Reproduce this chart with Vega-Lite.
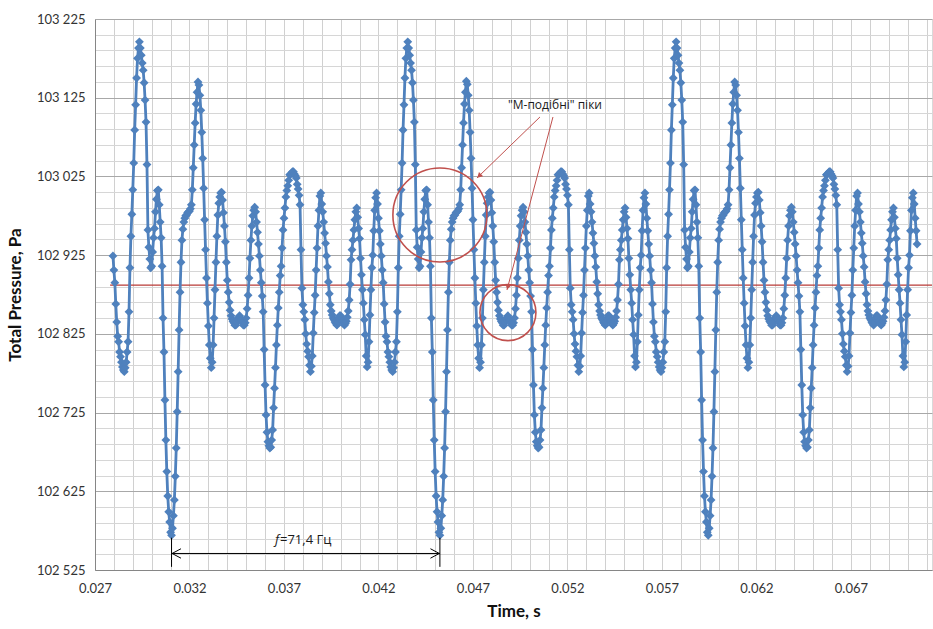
{
"$schema":"https://vega.github.io/schema/vega-lite/v6.json",
"width":837,"height":551,
"autosize":{"type":"none"},
"padding":{"left":95,"top":19,"right":1,"bottom":59},
"background":"white",
"config":{"view":{"stroke":"#d9d9d9"},"font":"Lato"},
"datasets":{
"s":[
{"t":0.02795,"p":102924},{"t":0.028,"p":102906},{"t":0.02805,"p":102890},{"t":0.0281,"p":102863},{"t":0.02815,"p":102840},{"t":0.0282,"p":102822},{"t":0.02825,"p":102815},{"t":0.0283,"p":102802},{"t":0.02835,"p":102796},{"t":0.0284,"p":102789},{"t":0.02845,"p":102783},{"t":0.0285,"p":102779},{"t":0.02855,"p":102777},{"t":0.0286,"p":102782},{"t":0.02865,"p":102789},{"t":0.0287,"p":102802},{"t":0.02875,"p":102815},{"t":0.0288,"p":102853},{"t":0.02885,"p":102909},{"t":0.0289,"p":102949},{"t":0.02895,"p":102977},{"t":0.029,"p":103008},{"t":0.02905,"p":103042},{"t":0.0291,"p":103084},{"t":0.02915,"p":103116},{"t":0.0292,"p":103150},{"t":0.02925,"p":103175},{"t":0.0293,"p":103188},{"t":0.02935,"p":103196},{"t":0.0294,"p":103188},{"t":0.02945,"p":103179},{"t":0.0295,"p":103169},{"t":0.02955,"p":103160},{"t":0.0296,"p":103144},{"t":0.02965,"p":103122},{"t":0.0297,"p":103094},{"t":0.02975,"p":103040},{"t":0.0298,"p":102957},{"t":0.02985,"p":102935},{"t":0.0299,"p":102920},{"t":0.02995,"p":102909},{"t":0.03,"p":102911},{"t":0.03005,"p":102929},{"t":0.0301,"p":102947},{"t":0.03015,"p":102959},{"t":0.0302,"p":102980},{"t":0.03025,"p":102996},{"t":0.0303,"p":103007},{"t":0.03035,"p":103008},{"t":0.0304,"p":102989},{"t":0.03045,"p":102967},{"t":0.0305,"p":102947},{"t":0.03055,"p":102911},{"t":0.0306,"p":102845},{"t":0.03065,"p":102802},{"t":0.0307,"p":102741},{"t":0.03075,"p":102690},{"t":0.0308,"p":102650},{"t":0.03085,"p":102619},{"t":0.0309,"p":102599},{"t":0.03095,"p":102586},{"t":0.031,"p":102573},
{"t":0.03105,"p":102569},{"t":0.0311,"p":102578},{"t":0.03115,"p":102594},{"t":0.0312,"p":102614},{"t":0.03125,"p":102644},{"t":0.0313,"p":102680},{"t":0.03135,"p":102726},{"t":0.0314,"p":102777},{"t":0.03145,"p":102830},{"t":0.0315,"p":102878},{"t":0.03155,"p":102916},{"t":0.0316,"p":102944},{"t":0.03165,"p":102958},{"t":0.0317,"p":102967},{"t":0.03175,"p":102972},{"t":0.0318,"p":102975},{"t":0.03185,"p":102976},{"t":0.0319,"p":102979},{"t":0.03195,"p":102980},{"t":0.032,"p":102981},
{"t":0.03205,"p":102984},{"t":0.0321,"p":102989},{"t":0.03215,"p":103008},{"t":0.0322,"p":103036},{"t":0.03225,"p":103065},{"t":0.0323,"p":103093},{"t":0.03235,"p":103117},{"t":0.0324,"p":103132},{"t":0.03245,"p":103145},{"t":0.0325,"p":103141},{"t":0.03255,"p":103128},{"t":0.0326,"p":103109},{"t":0.03265,"p":103081},{"t":0.0327,"p":103048},{"t":0.03275,"p":103010},{"t":0.0328,"p":102970},{"t":0.03285,"p":102932},{"t":0.0329,"p":102896},{"t":0.03295,"p":102864},{"t":0.033,"p":102835},
{"t":0.03305,"p":102811},{"t":0.0331,"p":102794},{"t":0.03315,"p":102782},{"t":0.0332,"p":102789},{"t":0.03325,"p":102811},{"t":0.0333,"p":102845},{"t":0.03335,"p":102881},{"t":0.0334,"p":102916},{"t":0.03345,"p":102949},{"t":0.0335,"p":102976},{"t":0.03355,"p":102991},{"t":0.0336,"p":102999},{"t":0.03365,"p":103004},{"t":0.0337,"p":103005},{"t":0.03375,"p":102995},{"t":0.0338,"p":102979},{"t":0.03385,"p":102962},{"t":0.0339,"p":102942},{"t":0.03395,"p":102916},{"t":0.034,"p":102893},
{"t":0.03405,"p":102878},{"t":0.0341,"p":102865},{"t":0.03415,"p":102855},{"t":0.0342,"p":102848},{"t":0.03425,"p":102844},{"t":0.0343,"p":102841},{"t":0.03435,"p":102839},{"t":0.0344,"p":102836},{"t":0.03445,"p":102836},{"t":0.0345,"p":102840},{"t":0.03455,"p":102844},{"t":0.0346,"p":102846},{"t":0.03465,"p":102848},{"t":0.0347,"p":102845},{"t":0.03475,"p":102843},{"t":0.0348,"p":102839},{"t":0.03485,"p":102836},{"t":0.0349,"p":102836},{"t":0.03495,"p":102839},{"t":0.035,"p":102845},
{"t":0.03505,"p":102857},{"t":0.0351,"p":102874},{"t":0.03515,"p":102896},{"t":0.0352,"p":102921},{"t":0.03525,"p":102944},{"t":0.0353,"p":102962},{"t":0.03535,"p":102975},{"t":0.0354,"p":102982},{"t":0.03545,"p":102986},{"t":0.0355,"p":102980},{"t":0.03555,"p":102967},{"t":0.0356,"p":102954},{"t":0.03565,"p":102939},{"t":0.0357,"p":102924},{"t":0.03575,"p":102906},{"t":0.0358,"p":102890},{"t":0.03585,"p":102873},{"t":0.0359,"p":102853},{"t":0.03595,"p":102805},{"t":0.036,"p":102760},
{"t":0.03605,"p":102722},{"t":0.0361,"p":102700},{"t":0.03615,"p":102688},{"t":0.0362,"p":102683},{"t":0.03625,"p":102680},{"t":0.0363,"p":102681},{"t":0.03635,"p":102690},{"t":0.0364,"p":102703},{"t":0.03645,"p":102731},{"t":0.0365,"p":102756},{"t":0.03655,"p":102782},{"t":0.0366,"p":102811},{"t":0.03665,"p":102836},{"t":0.0367,"p":102858},{"t":0.03675,"p":102878},{"t":0.0368,"p":102899},{"t":0.03685,"p":102911},{"t":0.0369,"p":102934},{"t":0.03695,"p":102957},{"t":0.037,"p":102972},
{"t":0.03705,"p":102985},{"t":0.0371,"p":102999},{"t":0.03715,"p":103007},{"t":0.0372,"p":103013},{"t":0.03725,"p":103020},{"t":0.0373,"p":103027},{"t":0.03735,"p":103028},{"t":0.0374,"p":103029},{"t":0.03745,"p":103031},{"t":0.0375,"p":103031},{"t":0.03755,"p":103028},{"t":0.0376,"p":103026},{"t":0.03765,"p":103023},{"t":0.0377,"p":103015},{"t":0.03775,"p":103009},{"t":0.0378,"p":103001},{"t":0.03785,"p":102989},{"t":0.0379,"p":102932},{"t":0.03795,"p":102883},{"t":0.038,"p":102862},
{"t":0.03805,"p":102853},{"t":0.0381,"p":102843},{"t":0.03815,"p":102825},{"t":0.0382,"p":102812},{"t":0.03825,"p":102803},{"t":0.0383,"p":102796},{"t":0.03835,"p":102785},{"t":0.0384,"p":102777},{"t":0.03845,"p":102784},{"t":0.0385,"p":102797},{"t":0.03855,"p":102826},{"t":0.0386,"p":102852},{"t":0.03865,"p":102874},{"t":0.0387,"p":102906},{"t":0.03875,"p":102934},{"t":0.0388,"p":102962},{"t":0.03885,"p":102982},{"t":0.0389,"p":103000},{"t":0.03895,"p":103004},{"t":0.039,"p":102990},
{"t":0.03905,"p":102980},{"t":0.0391,"p":102967},{"t":0.03915,"p":102953},{"t":0.0392,"p":102940},{"t":0.03925,"p":102924},{"t":0.0393,"p":102910},{"t":0.03935,"p":102891},{"t":0.0394,"p":102876},{"t":0.03945,"p":102862},{"t":0.0395,"p":102854},{"t":0.03955,"p":102849},{"t":0.0396,"p":102845},{"t":0.03965,"p":102843},{"t":0.0397,"p":102840},{"t":0.03975,"p":102838},{"t":0.0398,"p":102836},{"t":0.03985,"p":102840},{"t":0.0399,"p":102845},{"t":0.03995,"p":102848},{"t":0.04,"p":102848},
{"t":0.04005,"p":102845},{"t":0.0401,"p":102841},{"t":0.04015,"p":102838},{"t":0.0402,"p":102836},{"t":0.04025,"p":102838},{"t":0.0403,"p":102841},{"t":0.04035,"p":102846},{"t":0.0404,"p":102854},{"t":0.04045,"p":102868},{"t":0.0405,"p":102888},{"t":0.04055,"p":102919},{"t":0.0406,"p":102932},{"t":0.04065,"p":102944},{"t":0.0407,"p":102957},{"t":0.04075,"p":102970},{"t":0.0408,"p":102980},{"t":0.04085,"p":102985},{"t":0.0409,"p":102973},{"t":0.04095,"p":102959},{"t":0.041,"p":102946},
{"t":0.04105,"p":102921},{"t":0.0411,"p":102900},{"t":0.04115,"p":102881},{"t":0.0412,"p":102864},{"t":0.04125,"p":102843},{"t":0.0413,"p":102824},{"t":0.04135,"p":102797},{"t":0.0414,"p":102783},{"t":0.04145,"p":102789},{"t":0.0415,"p":102815},{"t":0.04155,"p":102849},{"t":0.0416,"p":102881},{"t":0.04165,"p":102909},{"t":0.0417,"p":102925},{"t":0.04175,"p":102956},{"t":0.0418,"p":102982},{"t":0.04185,"p":102998},{"t":0.0419,"p":103004},{"t":0.04195,"p":102990},{"t":0.042,"p":102972},
{"t":0.04205,"p":102956},{"t":0.0421,"p":102939},{"t":0.04215,"p":102924},{"t":0.0422,"p":102906},{"t":0.04225,"p":102890},{"t":0.0423,"p":102863},{"t":0.04235,"p":102840},{"t":0.0424,"p":102822},{"t":0.04245,"p":102815},{"t":0.0425,"p":102802},{"t":0.04255,"p":102796},{"t":0.0426,"p":102789},{"t":0.04265,"p":102783},{"t":0.0427,"p":102779},{"t":0.04275,"p":102777},{"t":0.0428,"p":102782},{"t":0.04285,"p":102789},{"t":0.0429,"p":102802},{"t":0.04295,"p":102815},{"t":0.043,"p":102853},
{"t":0.04305,"p":102909},{"t":0.0431,"p":102949},{"t":0.04315,"p":102977},{"t":0.0432,"p":103008},{"t":0.04325,"p":103042},{"t":0.0433,"p":103084},{"t":0.04335,"p":103116},{"t":0.0434,"p":103150},{"t":0.04345,"p":103175},{"t":0.0435,"p":103188},{"t":0.04355,"p":103196},{"t":0.0436,"p":103188},{"t":0.04365,"p":103179},{"t":0.0437,"p":103169},{"t":0.04375,"p":103160},{"t":0.0438,"p":103144},{"t":0.04385,"p":103122},{"t":0.0439,"p":103094},{"t":0.04395,"p":103040},{"t":0.044,"p":102957},
{"t":0.04405,"p":102935},{"t":0.0441,"p":102920},{"t":0.04415,"p":102909},{"t":0.0442,"p":102911},{"t":0.04425,"p":102929},{"t":0.0443,"p":102947},{"t":0.04435,"p":102959},{"t":0.0444,"p":102980},{"t":0.04445,"p":102996},{"t":0.0445,"p":103007},{"t":0.04455,"p":103008},{"t":0.0446,"p":102989},{"t":0.04465,"p":102967},{"t":0.0447,"p":102947},{"t":0.04475,"p":102911},{"t":0.0448,"p":102845},{"t":0.04485,"p":102802},{"t":0.0449,"p":102741},{"t":0.04495,"p":102690},{"t":0.045,"p":102650},
{"t":0.04505,"p":102619},{"t":0.0451,"p":102599},{"t":0.04515,"p":102586},{"t":0.0452,"p":102573},
{"t":0.04525,"p":102569},{"t":0.0453,"p":102578},{"t":0.04535,"p":102594},{"t":0.0454,"p":102614},{"t":0.04545,"p":102644},{"t":0.0455,"p":102680},{"t":0.04555,"p":102726},{"t":0.0456,"p":102777},{"t":0.04565,"p":102830},{"t":0.0457,"p":102878},{"t":0.04575,"p":102916},{"t":0.0458,"p":102944},{"t":0.04585,"p":102958},{"t":0.0459,"p":102967},{"t":0.04595,"p":102972},{"t":0.046,"p":102975},{"t":0.04605,"p":102976},{"t":0.0461,"p":102979},{"t":0.04615,"p":102980},{"t":0.0462,"p":102981},
{"t":0.04625,"p":102984},{"t":0.0463,"p":102989},{"t":0.04635,"p":103008},{"t":0.0464,"p":103036},{"t":0.04645,"p":103065},{"t":0.0465,"p":103093},{"t":0.04655,"p":103117},{"t":0.0466,"p":103132},{"t":0.04665,"p":103146},{"t":0.0467,"p":103142},{"t":0.04675,"p":103128},{"t":0.0468,"p":103109},{"t":0.04685,"p":103081},{"t":0.0469,"p":103048},{"t":0.04695,"p":103010},{"t":0.047,"p":102970},{"t":0.04705,"p":102932},{"t":0.0471,"p":102896},{"t":0.04715,"p":102864},{"t":0.0472,"p":102835},
{"t":0.04725,"p":102811},{"t":0.0473,"p":102794},{"t":0.04735,"p":102782},{"t":0.0474,"p":102789},{"t":0.04745,"p":102811},{"t":0.0475,"p":102845},{"t":0.04755,"p":102881},{"t":0.0476,"p":102916},{"t":0.04765,"p":102949},{"t":0.0477,"p":102976},{"t":0.04775,"p":102991},{"t":0.0478,"p":102999},{"t":0.04785,"p":103004},{"t":0.0479,"p":103005},{"t":0.04795,"p":102995},{"t":0.048,"p":102979},{"t":0.04805,"p":102962},{"t":0.0481,"p":102942},{"t":0.04815,"p":102916},{"t":0.0482,"p":102893},
{"t":0.04825,"p":102878},{"t":0.0483,"p":102865},{"t":0.04835,"p":102855},{"t":0.0484,"p":102848},{"t":0.04845,"p":102844},{"t":0.0485,"p":102841},{"t":0.04855,"p":102839},{"t":0.0486,"p":102836},{"t":0.04865,"p":102836},{"t":0.0487,"p":102840},{"t":0.04875,"p":102844},{"t":0.0488,"p":102846},{"t":0.04885,"p":102848},{"t":0.0489,"p":102845},{"t":0.04895,"p":102843},{"t":0.049,"p":102839},{"t":0.04905,"p":102836},{"t":0.0491,"p":102836},{"t":0.04915,"p":102839},{"t":0.0492,"p":102845},
{"t":0.04925,"p":102857},{"t":0.0493,"p":102874},{"t":0.04935,"p":102896},{"t":0.0494,"p":102921},{"t":0.04945,"p":102944},{"t":0.0495,"p":102962},{"t":0.04955,"p":102975},{"t":0.0496,"p":102982},{"t":0.04965,"p":102986},{"t":0.0497,"p":102980},{"t":0.04975,"p":102967},{"t":0.0498,"p":102954},{"t":0.04985,"p":102939},{"t":0.0499,"p":102924},{"t":0.04995,"p":102906},{"t":0.05,"p":102890},{"t":0.05005,"p":102873},{"t":0.0501,"p":102853},{"t":0.05015,"p":102805},{"t":0.0502,"p":102760},
{"t":0.05025,"p":102722},{"t":0.0503,"p":102700},{"t":0.05035,"p":102688},{"t":0.0504,"p":102683},{"t":0.05045,"p":102680},{"t":0.0505,"p":102681},{"t":0.05055,"p":102690},{"t":0.0506,"p":102703},{"t":0.05065,"p":102731},{"t":0.0507,"p":102756},{"t":0.05075,"p":102782},{"t":0.0508,"p":102811},{"t":0.05085,"p":102836},{"t":0.0509,"p":102858},{"t":0.05095,"p":102878},{"t":0.051,"p":102899},{"t":0.05105,"p":102911},{"t":0.0511,"p":102934},{"t":0.05115,"p":102957},{"t":0.0512,"p":102972},
{"t":0.05125,"p":102985},{"t":0.0513,"p":102999},{"t":0.05135,"p":103007},{"t":0.0514,"p":103013},{"t":0.05145,"p":103020},{"t":0.0515,"p":103027},{"t":0.05155,"p":103028},{"t":0.0516,"p":103029},{"t":0.05165,"p":103031},{"t":0.0517,"p":103031},{"t":0.05175,"p":103028},{"t":0.0518,"p":103026},{"t":0.05185,"p":103023},{"t":0.0519,"p":103015},{"t":0.05195,"p":103009},{"t":0.052,"p":103001},{"t":0.05205,"p":102989},{"t":0.0521,"p":102932},{"t":0.05215,"p":102883},{"t":0.0522,"p":102862},
{"t":0.05225,"p":102853},{"t":0.0523,"p":102843},{"t":0.05235,"p":102825},{"t":0.0524,"p":102812},{"t":0.05245,"p":102803},{"t":0.0525,"p":102796},{"t":0.05255,"p":102785},{"t":0.0526,"p":102777},{"t":0.05265,"p":102784},{"t":0.0527,"p":102797},{"t":0.05275,"p":102826},{"t":0.0528,"p":102852},{"t":0.05285,"p":102874},{"t":0.0529,"p":102906},{"t":0.05295,"p":102934},{"t":0.053,"p":102962},{"t":0.05305,"p":102982},{"t":0.0531,"p":103000},{"t":0.05315,"p":103004},{"t":0.0532,"p":102990},
{"t":0.05325,"p":102980},{"t":0.0533,"p":102967},{"t":0.05335,"p":102953},{"t":0.0534,"p":102940},{"t":0.05345,"p":102924},{"t":0.0535,"p":102910},{"t":0.05355,"p":102891},{"t":0.0536,"p":102876},{"t":0.05365,"p":102862},{"t":0.0537,"p":102854},{"t":0.05375,"p":102849},{"t":0.0538,"p":102845},{"t":0.05385,"p":102843},{"t":0.0539,"p":102840},{"t":0.05395,"p":102838},{"t":0.054,"p":102836},{"t":0.05405,"p":102840},{"t":0.0541,"p":102845},{"t":0.05415,"p":102848},{"t":0.0542,"p":102848},
{"t":0.05425,"p":102845},{"t":0.0543,"p":102841},{"t":0.05435,"p":102838},{"t":0.0544,"p":102836},{"t":0.05445,"p":102838},{"t":0.0545,"p":102841},{"t":0.05455,"p":102846},{"t":0.0546,"p":102854},{"t":0.05465,"p":102868},{"t":0.0547,"p":102888},{"t":0.05475,"p":102919},{"t":0.0548,"p":102932},{"t":0.05485,"p":102944},{"t":0.0549,"p":102957},{"t":0.05495,"p":102970},{"t":0.055,"p":102980},{"t":0.05505,"p":102985},{"t":0.0551,"p":102973},{"t":0.05515,"p":102959},{"t":0.0552,"p":102946},
{"t":0.05525,"p":102921},{"t":0.0553,"p":102900},{"t":0.05535,"p":102881},{"t":0.0554,"p":102864},{"t":0.05545,"p":102843},{"t":0.0555,"p":102824},{"t":0.05555,"p":102797},{"t":0.0556,"p":102783},{"t":0.05565,"p":102789},{"t":0.0557,"p":102815},{"t":0.05575,"p":102849},{"t":0.0558,"p":102881},{"t":0.05585,"p":102909},{"t":0.0559,"p":102925},{"t":0.05595,"p":102956},{"t":0.056,"p":102982},{"t":0.05605,"p":102998},{"t":0.0561,"p":103004},{"t":0.05615,"p":102990},{"t":0.0562,"p":102972},
{"t":0.05625,"p":102956},{"t":0.0563,"p":102939},{"t":0.05635,"p":102924},{"t":0.0564,"p":102906},{"t":0.05645,"p":102890},{"t":0.0565,"p":102863},{"t":0.05655,"p":102840},{"t":0.0566,"p":102822},{"t":0.05665,"p":102815},{"t":0.0567,"p":102802},{"t":0.05675,"p":102796},{"t":0.0568,"p":102789},{"t":0.05685,"p":102783},{"t":0.0569,"p":102779},{"t":0.05695,"p":102777},{"t":0.057,"p":102782},{"t":0.05705,"p":102789},{"t":0.0571,"p":102802},{"t":0.05715,"p":102815},{"t":0.0572,"p":102853},
{"t":0.05725,"p":102909},{"t":0.0573,"p":102949},{"t":0.05735,"p":102977},{"t":0.0574,"p":103008},{"t":0.05745,"p":103042},{"t":0.0575,"p":103084},{"t":0.05755,"p":103116},{"t":0.0576,"p":103150},{"t":0.05765,"p":103175},{"t":0.0577,"p":103188},{"t":0.05775,"p":103196},{"t":0.0578,"p":103188},{"t":0.05785,"p":103179},{"t":0.0579,"p":103169},{"t":0.05795,"p":103160},{"t":0.058,"p":103144},{"t":0.05805,"p":103122},{"t":0.0581,"p":103094},{"t":0.05815,"p":103040},{"t":0.0582,"p":102957},
{"t":0.05825,"p":102935},{"t":0.0583,"p":102920},{"t":0.05835,"p":102909},{"t":0.0584,"p":102911},{"t":0.05845,"p":102929},{"t":0.0585,"p":102947},{"t":0.05855,"p":102959},{"t":0.0586,"p":102980},{"t":0.05865,"p":102996},{"t":0.0587,"p":103007},{"t":0.05875,"p":103008},{"t":0.0588,"p":102989},{"t":0.05885,"p":102967},{"t":0.0589,"p":102947},{"t":0.05895,"p":102911},{"t":0.059,"p":102845},{"t":0.05905,"p":102802},{"t":0.0591,"p":102741},{"t":0.05915,"p":102690},{"t":0.0592,"p":102650},
{"t":0.05925,"p":102619},{"t":0.0593,"p":102599},{"t":0.05935,"p":102586},{"t":0.0594,"p":102573},
{"t":0.05945,"p":102569},{"t":0.0595,"p":102578},{"t":0.05955,"p":102594},{"t":0.0596,"p":102614},{"t":0.05965,"p":102644},{"t":0.0597,"p":102680},{"t":0.05975,"p":102726},{"t":0.0598,"p":102777},{"t":0.05985,"p":102830},{"t":0.0599,"p":102878},{"t":0.05995,"p":102916},{"t":0.06,"p":102944},{"t":0.06005,"p":102958},{"t":0.0601,"p":102967},{"t":0.06015,"p":102972},{"t":0.0602,"p":102975},{"t":0.06025,"p":102976},{"t":0.0603,"p":102979},{"t":0.06035,"p":102980},{"t":0.0604,"p":102981},
{"t":0.06045,"p":102984},{"t":0.0605,"p":102989},{"t":0.06055,"p":103008},{"t":0.0606,"p":103036},{"t":0.06065,"p":103065},{"t":0.0607,"p":103093},{"t":0.06075,"p":103117},{"t":0.0608,"p":103132},{"t":0.06085,"p":103145},{"t":0.0609,"p":103141},{"t":0.06095,"p":103128},{"t":0.061,"p":103109},{"t":0.06105,"p":103081},{"t":0.0611,"p":103048},{"t":0.06115,"p":103010},{"t":0.0612,"p":102970},{"t":0.06125,"p":102932},{"t":0.0613,"p":102896},{"t":0.06135,"p":102864},{"t":0.0614,"p":102835},
{"t":0.06145,"p":102811},{"t":0.0615,"p":102794},{"t":0.06155,"p":102782},{"t":0.0616,"p":102789},{"t":0.06165,"p":102811},{"t":0.0617,"p":102845},{"t":0.06175,"p":102881},{"t":0.0618,"p":102916},{"t":0.06185,"p":102949},{"t":0.0619,"p":102976},{"t":0.06195,"p":102991},{"t":0.062,"p":102999},{"t":0.06205,"p":103004},{"t":0.0621,"p":103005},{"t":0.06215,"p":102995},{"t":0.0622,"p":102979},{"t":0.06225,"p":102962},{"t":0.0623,"p":102942},{"t":0.06235,"p":102916},{"t":0.0624,"p":102893},
{"t":0.06245,"p":102878},{"t":0.0625,"p":102865},{"t":0.06255,"p":102855},{"t":0.0626,"p":102848},{"t":0.06265,"p":102844},{"t":0.0627,"p":102841},{"t":0.06275,"p":102839},{"t":0.0628,"p":102836},{"t":0.06285,"p":102836},{"t":0.0629,"p":102840},{"t":0.06295,"p":102844},{"t":0.063,"p":102846},{"t":0.06305,"p":102848},{"t":0.0631,"p":102845},{"t":0.06315,"p":102843},{"t":0.0632,"p":102839},{"t":0.06325,"p":102836},{"t":0.0633,"p":102836},{"t":0.06335,"p":102839},{"t":0.0634,"p":102845},
{"t":0.06345,"p":102857},{"t":0.0635,"p":102874},{"t":0.06355,"p":102896},{"t":0.0636,"p":102921},{"t":0.06365,"p":102944},{"t":0.0637,"p":102962},{"t":0.06375,"p":102975},{"t":0.0638,"p":102982},{"t":0.06385,"p":102986},{"t":0.0639,"p":102980},{"t":0.06395,"p":102967},{"t":0.064,"p":102954},{"t":0.06405,"p":102939},{"t":0.0641,"p":102924},{"t":0.06415,"p":102906},{"t":0.0642,"p":102890},{"t":0.06425,"p":102873},{"t":0.0643,"p":102853},{"t":0.06435,"p":102805},{"t":0.0644,"p":102760},
{"t":0.06445,"p":102722},{"t":0.0645,"p":102700},{"t":0.06455,"p":102688},{"t":0.0646,"p":102683},{"t":0.06465,"p":102680},{"t":0.0647,"p":102681},{"t":0.06475,"p":102690},{"t":0.0648,"p":102703},{"t":0.06485,"p":102731},{"t":0.0649,"p":102756},{"t":0.06495,"p":102782},{"t":0.065,"p":102811},{"t":0.06505,"p":102836},{"t":0.0651,"p":102858},{"t":0.06515,"p":102878},{"t":0.0652,"p":102899},{"t":0.06525,"p":102911},{"t":0.0653,"p":102934},{"t":0.06535,"p":102957},{"t":0.0654,"p":102972},
{"t":0.06545,"p":102985},{"t":0.0655,"p":102999},{"t":0.06555,"p":103007},{"t":0.0656,"p":103013},{"t":0.06565,"p":103020},{"t":0.0657,"p":103027},{"t":0.06575,"p":103028},{"t":0.0658,"p":103029},{"t":0.06585,"p":103031},{"t":0.0659,"p":103031},{"t":0.06595,"p":103028},{"t":0.066,"p":103026},{"t":0.06605,"p":103023},{"t":0.0661,"p":103015},{"t":0.06615,"p":103009},{"t":0.0662,"p":103001},{"t":0.06625,"p":102989},{"t":0.0663,"p":102932},{"t":0.06635,"p":102883},{"t":0.0664,"p":102862},
{"t":0.06645,"p":102853},{"t":0.0665,"p":102843},{"t":0.06655,"p":102825},{"t":0.0666,"p":102812},{"t":0.06665,"p":102803},{"t":0.0667,"p":102796},{"t":0.06675,"p":102785},{"t":0.0668,"p":102777},{"t":0.06685,"p":102784},{"t":0.0669,"p":102797},{"t":0.06695,"p":102826},{"t":0.067,"p":102852},{"t":0.06705,"p":102874},{"t":0.0671,"p":102906},{"t":0.06715,"p":102934},{"t":0.0672,"p":102962},{"t":0.06725,"p":102982},{"t":0.0673,"p":103000},{"t":0.06735,"p":103004},{"t":0.0674,"p":102990},
{"t":0.06745,"p":102980},{"t":0.0675,"p":102967},{"t":0.06755,"p":102953},{"t":0.0676,"p":102940},{"t":0.06765,"p":102924},{"t":0.0677,"p":102910},{"t":0.06775,"p":102891},{"t":0.0678,"p":102876},{"t":0.06785,"p":102862},{"t":0.0679,"p":102854},{"t":0.06795,"p":102849},{"t":0.068,"p":102845},{"t":0.06805,"p":102843},{"t":0.0681,"p":102840},{"t":0.06815,"p":102838},{"t":0.0682,"p":102836},{"t":0.06825,"p":102840},{"t":0.0683,"p":102845},{"t":0.06835,"p":102848},{"t":0.0684,"p":102848},
{"t":0.06845,"p":102845},{"t":0.0685,"p":102841},{"t":0.06855,"p":102838},{"t":0.0686,"p":102836},{"t":0.06865,"p":102838},{"t":0.0687,"p":102841},{"t":0.06875,"p":102846},{"t":0.0688,"p":102854},{"t":0.06885,"p":102868},{"t":0.0689,"p":102888},{"t":0.06895,"p":102919},{"t":0.069,"p":102932},{"t":0.06905,"p":102944},{"t":0.0691,"p":102957},{"t":0.06915,"p":102970},{"t":0.0692,"p":102980},{"t":0.06925,"p":102985},{"t":0.0693,"p":102973},{"t":0.06935,"p":102959},{"t":0.0694,"p":102946},
{"t":0.06945,"p":102921},{"t":0.0695,"p":102900},{"t":0.06955,"p":102881},{"t":0.0696,"p":102864},{"t":0.06965,"p":102843},{"t":0.0697,"p":102824},{"t":0.06975,"p":102797},{"t":0.0698,"p":102783},{"t":0.06985,"p":102789},{"t":0.0699,"p":102815},{"t":0.06995,"p":102849},{"t":0.07,"p":102881},{"t":0.07005,"p":102909},{"t":0.0701,"p":102925},{"t":0.07015,"p":102956},{"t":0.0702,"p":102982},{"t":0.07025,"p":102998},{"t":0.0703,"p":103004},{"t":0.07035,"p":102990},{"t":0.0704,"p":102972},
{"t":0.07045,"p":102956},{"t":0.0705,"p":102939}
],
"mean":[{"t":0.0278,"t2":0.07129,"p":102887}],
"circ1":[{"t":0.04525,"p":102976}],
"circ2":[{"t":0.04885,"p":102852}],
"redarrows":[{"t":0.050545,"p":103100.5,"t2":0.047212,"p2":103023},{"t":0.051233,"p":103100.5,"t2":0.048799,"p2":102880.7}],
"head1":[{"t":0.047328,"p":103025.6}],
"head2":[{"t":0.048841,"p":102884.4}],
"dim":[
{"t":0.03105,"p":102546,"t2":0.04525,"p2":102546},
{"t":0.03105,"p":102566,"t2":0.03105,"p2":102529},
{"t":0.04525,"p":102566,"t2":0.04525,"p2":102529},
{"t":0.03108,"p":102546,"t2":0.03155,"p2":102552},
{"t":0.03108,"p":102546,"t2":0.03155,"p2":102540},
{"t":0.04522,"p":102546,"t2":0.04475,"p2":102552},
{"t":0.04522,"p":102546,"t2":0.04475,"p2":102540}
],
"lblm":[{"t":0.051339,"p":103116}],
"lblf":[{"t":0.036735,"p":102563}]
},
"layer":[
{"data":{"name":"mean"},
 "mark":{"type":"rule","color":"#b83a36","strokeWidth":1.3},
 "encoding":{
  "x":{"field":"t","type":"quantitative",
   "scale":{"domain":[0.027,0.07129],"nice":false,"zero":false},
   "axis":{"title":"Time, s","tickCount":500,"values":[0.027,0.028,0.029,0.03,0.031,0.032,0.033,0.034,0.035,0.036,0.037,0.038,0.039,0.04,0.041,0.042,0.043,0.044,0.045,0.046,0.047,0.048,0.049,0.05,0.051,0.052,0.053,0.054,0.055,0.056,0.057,0.058,0.059,0.06,0.061,0.062,0.063,0.064,0.065,0.066,0.067,0.068,0.069,0.07,0.071],
    "labelExpr":"round(datum.value*1000) % 5 == 2 ? format(datum.value, '.3f') : ''",
    "labelOverlap":false,"labelFlush":false,"ticks":false,"grid":true,"gridColor":"#d0d0d0","gridWidth":1,
    "domainColor":"#868686","domainWidth":1,"labelFont":"Lato","labelFontSize":13,"labelColor":"#333333","labelPadding":12,
    "titleFont":"Lato","titleFontSize":17,"titleFontWeight":"bold","titleColor":"#111111","titlePadding":8}},
  "x2":{"field":"t2"},
  "y":{"field":"p","type":"quantitative",
   "scale":{"domain":[102525,103225],"nice":false,"zero":false},
   "axis":{"title":"Total Pressure, Pa","tickCount":500,"values":[102525,102545,102565,102585,102605,102625,102645,102665,102685,102705,102725,102745,102765,102785,102805,102825,102845,102865,102885,102905,102925,102945,102965,102985,103005,103025,103045,103065,103085,103105,103125,103145,103165,103185,103205,103225],
    "labelExpr":"(datum.value - 102525) % 100 == 0 ? replace(format(datum.value, ',d'), ',', ' ') : ''",
    "labelOverlap":false,"labelFlush":false,"ticks":false,"grid":true,
    "gridColor":{"condition":{"test":"(datum.value - 102525) % 100 == 0","value":"#a8a8a8"},"value":"#d6d6d6"},
    "domainColor":"#868686","labelFont":"Lato","labelFontSize":13,"labelColor":"#333333","labelPadding":10,
    "titleFont":"Lato","titleFontSize":17,"titleFontWeight":"bold","titleColor":"#111111","titlePadding":12}}
 }},
{"data":{"name":"s"},
 "mark":{"type":"line","color":"#4f81bd","strokeWidth":2.8},
 "encoding":{"x":{"field":"t","type":"quantitative"},"y":{"field":"p","type":"quantitative"}}},
{"data":{"name":"s"},
 "mark":{"type":"point","shape":"diamond","filled":true,"size":78,"color":"#4f81bd","opacity":1},
 "encoding":{"x":{"field":"t","type":"quantitative"},"y":{"field":"p","type":"quantitative"}}},
{"data":{"name":"circ1"},
 "mark":{"type":"point","shape":"circle","filled":false,"size":8836,"stroke":"#c0504d","strokeWidth":1.6,"opacity":1},
 "encoding":{"x":{"field":"t","type":"quantitative"},"y":{"field":"p","type":"quantitative"}}},
{"data":{"name":"circ2"},
 "mark":{"type":"point","shape":"circle","filled":false,"size":3136,"stroke":"#c0504d","strokeWidth":1.6,"opacity":1},
 "encoding":{"x":{"field":"t","type":"quantitative"},"y":{"field":"p","type":"quantitative"}}},
{"data":{"name":"redarrows"},
 "mark":{"type":"rule","color":"#c0504d","strokeWidth":1},
 "encoding":{"x":{"field":"t","type":"quantitative"},"y":{"field":"p","type":"quantitative"},"x2":{"field":"t2"},"y2":{"field":"p2"}}},
{"data":{"name":"head1"},
 "mark":{"type":"point","shape":"triangle-up","filled":true,"size":36,"color":"#c0504d","angle":226,"opacity":1},
 "encoding":{"x":{"field":"t","type":"quantitative"},"y":{"field":"p","type":"quantitative"}}},
{"data":{"name":"head2"},
 "mark":{"type":"point","shape":"triangle-up","filled":true,"size":36,"color":"#c0504d","angle":195,"opacity":1},
 "encoding":{"x":{"field":"t","type":"quantitative"},"y":{"field":"p","type":"quantitative"}}},
{"data":{"name":"dim"},
 "mark":{"type":"rule","color":"#000000","strokeWidth":1},
 "encoding":{"x":{"field":"t","type":"quantitative"},"y":{"field":"p","type":"quantitative"},"x2":{"field":"t2"},"y2":{"field":"p2"}}},
{"data":{"name":"lblm"},
 "mark":{"type":"text","text":"\"М-подібні\" піки","font":"Open Sans","fontSize":12,"color":"#1a1a1a","align":"center","baseline":"middle"},
 "encoding":{"x":{"field":"t","type":"quantitative"},"y":{"field":"p","type":"quantitative"}}},
{"data":{"name":"lblf"},
 "mark":{"type":"text","text":"f","font":"Open Sans","fontStyle":"italic","fontSize":13,"color":"#1a1a1a","align":"right","baseline":"middle"},
 "encoding":{"x":{"field":"t","type":"quantitative"},"y":{"field":"p","type":"quantitative"}}},
{"data":{"name":"lblf"},
 "mark":{"type":"text","text":"=71,4 Гц","font":"Open Sans","fontSize":13,"color":"#1a1a1a","align":"left","baseline":"middle","dx":1},
 "encoding":{"x":{"field":"t","type":"quantitative"},"y":{"field":"p","type":"quantitative"}}}
]
}
